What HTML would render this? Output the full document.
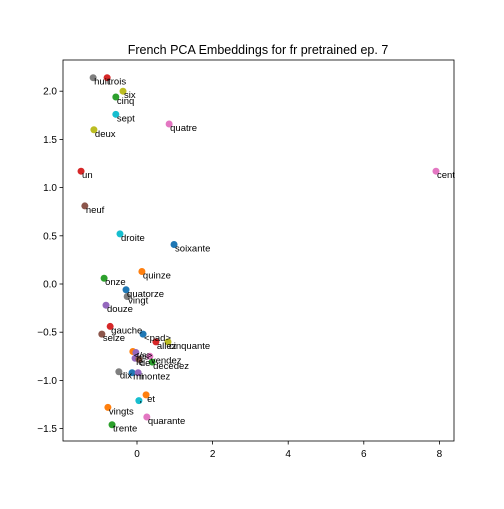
<!DOCTYPE html>
<html><head><meta charset="utf-8"><style>
body{margin:0;background:#fff;}
svg text{font-family:"Liberation Sans","DejaVu Sans",sans-serif;}
</style></head><body>
<svg id="chart" width="504" height="504" xmlns="http://www.w3.org/2000/svg">
<rect width="504" height="504" fill="#fff"/>
<text x="258" y="54" font-size="12.5" text-anchor="middle">French PCA Embeddings for fr pretrained ep. 7</text>
<g id="axes"></g>
<g id="points"></g>
<rect x="63" y="60" width="391" height="381" fill="none" stroke="#000" stroke-width="0.8"/>
</svg>
<script>
const words=["huit","trois","six","cinq","sept","quatre","deux","cent","un","neuf","droite","soixante","quinze","onze","quatorze","vingt","douze","gauche","seize","<pad>","allez","cinquante","</s>","les","le","de","vendez","décédez","dix","mi","montez","et","'","vingts","quarante","trente"];
const xs=[-1.16,-0.79,-0.37,-0.56,-0.56,0.85,-1.14,7.91,-1.48,-1.38,-0.45,0.98,0.13,-0.87,-0.29,-0.26,-0.82,-0.71,-0.93,0.16,0.50,0.82,-0.11,-0.03,-0.05,0.05,0.34,0.40,-0.48,-0.13,0.03,0.24,0.05,-0.77,0.26,-0.66];
const ys=[2.14,2.14,2.0,1.94,1.76,1.66,1.60,1.17,1.17,0.81,0.52,0.41,0.13,0.06,-0.06,-0.13,-0.22,-0.44,-0.52,-0.52,-0.60,-0.60,-0.70,-0.71,-0.77,-0.78,-0.75,-0.81,-0.91,-0.92,-0.92,-1.15,-1.21,-1.28,-1.38,-1.46];
const colors=["#7f7f7f","#d62728","#bcbd22","#2ca02c","#17becf","#e377c2","#bcbd22","#e377c2","#d62728","#8c564b","#17becf","#1f77b4","#ff7f0e","#2ca02c","#1f77b4","#7f7f7f","#9467bd","#d62728","#8c564b","#1f77b4","#d62728","#bcbd22","#ff7f0e","#9467bd","#9467bd","#8c564b","#e377c2","#2ca02c","#7f7f7f","#1f77b4","#9467bd","#ff7f0e","#17becf","#ff7f0e","#e377c2","#2ca02c"];
const xTicks=[0,2,4,6,8];
const yTicks=[-1.5,-1.0,-0.5,0.0,0.5,1.0,1.5,2.0];
const NS="http://www.w3.org/2000/svg";
function sx(v){return 137+v*37.8;}
function sy(v){return 284-v*96.4;}
const ax=document.getElementById('axes'),pg=document.getElementById('points');
function mk(t,a,p){const e=document.createElementNS(NS,t);for(const k in a)e.setAttribute(k,a[k]);p.appendChild(e);return e;}
xTicks.forEach(v=>{
 const l=mk('line',{x1:sx(v),x2:sx(v),y1:441,y2:444.5,stroke:'#000','stroke-width':0.8},ax);
 
 
 const t=mk('text',{x:sx(v),y:457,'font-size':10,'text-anchor':'middle'},ax);t.textContent=v;
 
 
});
yTicks.forEach(v=>{
 const l=mk('line',{x1:59.5,x2:63,y1:sy(v),y2:sy(v),stroke:'#000','stroke-width':0.8},ax);
 
 
 const t=mk('text',{x:57,y:sy(v)+3.5,'font-size':10,'text-anchor':'end'},ax);t.textContent=v.toFixed(1).replace('-','−');
 
 
});
words.forEach((w,i)=>{
 const c=mk('circle',{cx:sx(xs[i]),cy:sy(ys[i]),r:3.5,fill:colors[i]},pg);
 
 
});
words.forEach((w,i)=>{
 const t=mk('text',{x:sx(xs[i])+1,y:sy(ys[i])+7,'font-size':9.5},pg);t.textContent=w;
 
 
});
</script>
</body></html>
